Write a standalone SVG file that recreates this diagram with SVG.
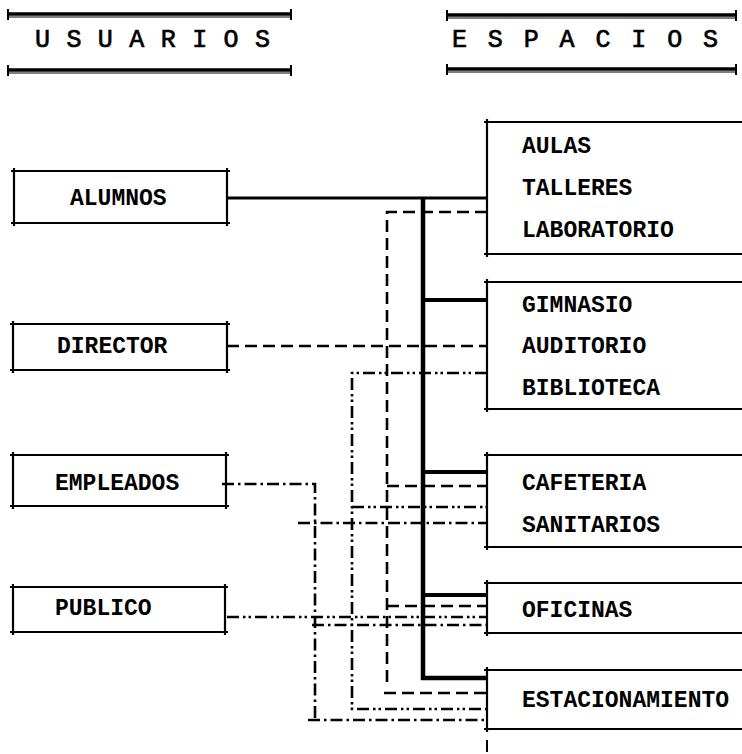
<svg xmlns="http://www.w3.org/2000/svg" width="742" height="754" viewBox="0 0 742 754">
<style>
.lbl{font-family:"Liberation Mono","Courier New",monospace;font-size:23px;font-weight:bold;fill:#000}
.hdr{font-family:"Liberation Mono","Courier New",monospace;font-size:25px;fill:#000;stroke:#000;stroke-width:0.7}
.bar{fill:none;stroke:#000;stroke-width:3.5}
.bar2{fill:none;stroke:#000;stroke-width:1}
.tick{fill:none;stroke:#000;stroke-width:2}
.box{fill:none;stroke:#000;stroke-width:2.2}
.solid{fill:none;stroke:#000;stroke-width:3}
.branch{fill:none;stroke:#000;stroke-width:3.8}
.bus{fill:none;stroke:#000;stroke-width:4.5}
.dash{fill:none;stroke:#000;stroke-width:2.6;stroke-dasharray:12 6}
.dot1{fill:none;stroke:#000;stroke-width:2.6;stroke-dasharray:12 4 2.5 4}
.dot2{fill:none;stroke:#000;stroke-width:2.6;stroke-dasharray:12 4 2.5 3 2.5 4}
</style>
<rect width="742" height="754" fill="#fff"/>

<g id="header-usuarios">
  <path class="bar" d="M8,14H291 M8,70H291"/>
  <path class="bar2" d="M8,17H291 M8,73H291"/>
  <path class="tick" d="M8,9V20 M291,9V20 M8,65V76 M291,65V76"/>
  <text class="hdr" x="35" y="47" textLength="235" lengthAdjust="spacing">U S U A R I O S</text>
</g>
<g id="header-espacios">
  <path class="bar" d="M447,15H736 M447,69H736"/>
  <path class="bar2" d="M447,18H736 M447,72H736"/>
  <path class="tick" d="M447,10V21 M736,10V21 M447,64V75 M736,64V75"/>
  <text class="hdr" x="452" y="47" textLength="266" lengthAdjust="spacing">E S P A C I O S</text>
</g>

<g id="connectors">
  <!-- ALUMNOS solid -->
  <path class="solid" d="M227,198H487"/>
  <path class="bus" d="M423,198V678H487"/>
  <path class="branch" d="M423,300H487 M423,472H487 M423,595H487"/>
  <!-- DIRECTOR dashed -->
  <path class="dash" d="M227,346H487"/>
  <path class="dash" d="M487,212H387V686"/>
  <path class="dash" d="M387,486H487 M387,606H487 M384,693H487"/>
  <!-- PUBLICO dash-dot-dot -->
  <path class="dot2" d="M227,617H487"/>
  <path class="dot2" d="M487,373H352V709H487"/>
  <path class="dot2" d="M352,507H487"/>
  <!-- EMPLEADOS dash-dot -->
  <path class="dot1" d="M222,484H315V720"/>
  <path class="dot1" d="M308,720H487 M298,523H487 M312,625H487"/>
  <path class="tick" d="M487,740V752"/>
</g>

<g id="alumnos">
  <path class="box" d="M11,171H230 M11,223H230 M14,168V226 M227,168V226"/>
  <text class="lbl" x="70" y="205">ALUMNOS</text>
</g>
<g id="director">
  <path class="box" d="M10,324H230 M10,370H230 M13,321V373 M227,321V373"/>
  <text class="lbl" x="57" y="353">DIRECTOR</text>
</g>
<g id="empleados">
  <path class="box" d="M10,455H229 M10,506H229 M13,452V509 M226,452V509"/>
  <text class="lbl" x="55" y="490">EMPLEADOS</text>
</g>
<g id="publico">
  <path class="box" d="M10,587H228 M10,632H228 M13,584V635 M225,584V635"/>
  <text class="lbl" x="55" y="615">PUBLICO</text>
</g>

<g id="aulas">
  <path class="box" d="M484,122H742 M484,254H742 M487,119V257"/>
  <text class="lbl" x="522" y="153">AULAS</text>
  <text class="lbl" x="522" y="195">TALLERES</text>
  <text class="lbl" x="522" y="237">LABORATORIO</text>
</g>
<g id="gimnasio">
  <path class="box" d="M484,282H742 M484,409H742 M487,279V412"/>
  <text class="lbl" x="522" y="312">GIMNASIO</text>
  <text class="lbl" x="522" y="353">AUDITORIO</text>
  <text class="lbl" x="522" y="395">BIBLIOTECA</text>
</g>
<g id="cafeteria">
  <path class="box" d="M484,455H742 M484,547H742 M487,452V550"/>
  <text class="lbl" x="522" y="490">CAFETERIA</text>
  <text class="lbl" x="522" y="532">SANITARIOS</text>
</g>
<g id="oficinas">
  <path class="box" d="M484,583H742 M484,633H742 M487,580V636"/>
  <text class="lbl" x="522" y="617">OFICINAS</text>
</g>
<g id="estacionamiento">
  <path class="box" d="M484,670H742 M484,729H742 M487,667V732"/>
  <text class="lbl" x="522" y="707">ESTACIONAMIENTO</text>
</g>
</svg>
